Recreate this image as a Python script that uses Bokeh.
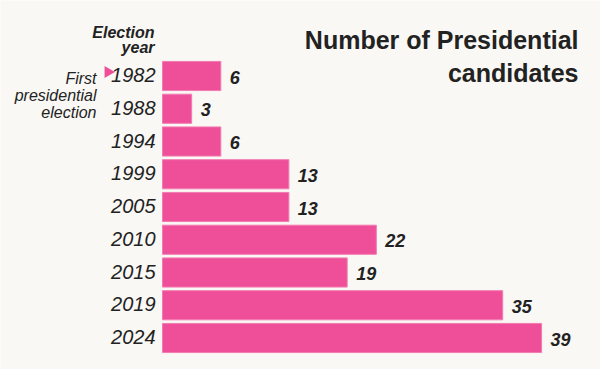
from bokeh.plotting import figure
from bokeh.models import Range1d, Label, ColumnDataSource
from bokeh.core.properties import value
from bokeh.embed import file_html
from bokeh.resources import INLINE
import math

years = ["1982", "1988", "1994", "1999", "2005", "2010", "2015", "2019", "2024"]
candidates = [6, 3, 6, 13, 13, 22, 19, 35, 39]

BG = "#F9F8F4"
PINK = "#EE4F98"
INK = "#222222"
SANS = "Liberation Sans"

# pixel geometry of the window
X0, PXU = 162.0, 9.72      # window px of value 0, px per candidate
Y0, PYU = 75.5, 32.75      # window px of first row centre, px per row
W, H = 600, 369

def dx(wx):
    return (wx - X0) / PXU

def dy(wy):
    return (wy - Y0) / PYU

p = figure(width=W, height=H, output_backend="svg", toolbar_location=None,
           x_range=Range1d(dx(0), dx(W)), y_range=Range1d(dy(H), dy(0)),
           min_border=0, background_fill_color=BG, border_fill_color=BG)
p.axis.visible = False
p.grid.visible = False
p.outline_line_color = None

idx = list(range(len(years)))
src = ColumnDataSource(dict(y=idx, v=candidates, year=years,
                            vlab=[str(c) for c in candidates]))

p.hbar(y="y", right="v", left=0, height=0.89, source=src,
       fill_color=PINK, line_color="#F27BB2", line_width=1)

p.text(x=0, y="y", text="year", source=src, x_offset=-7, y_offset=-1,
       text_align="right", text_baseline="middle",
       text_font=value(SANS), text_font_style="italic",
       text_font_size="20px", text_color=INK)

p.text(x="v", y="y", text="vlab", source=src, x_offset=9, y_offset=1,
       text_align="left", text_baseline="middle",
       text_font=value(SANS), text_font_style="bold italic",
       text_font_size="18px", text_color=INK)

# title
for txt, wy in [("Number of Presidential", 39), ("candidates", 72)]:
    p.add_layout(Label(x=dx(578), y=dy(wy), text=txt, text_align="right",
                       text_baseline="alphabetic", text_font=SANS,
                       text_font_style="bold", text_font_size="25px",
                       text_color=INK))

# header
for txt, wy in [("Election", 32), ("year", 47)]:
    p.add_layout(Label(x=dx(154), y=dy(wy), text=txt, text_align="right",
                       text_baseline="alphabetic", text_font=SANS,
                       text_font_style="bold italic", text_font_size="16px",
                       text_color=INK))

# annotation
for txt, wy in [("First", 78), ("presidential", 95), ("election", 112)]:
    p.add_layout(Label(x=dx(96), y=dy(wy), text=txt, text_align="right",
                       text_baseline="alphabetic", text_font=SANS,
                       text_font_style="italic", text_font_size="16px",
                       text_color=INK))

p.scatter(x=[dx(107.5)], y=[dy(71.5)], marker="triangle", size=12,
          angle=-math.pi / 2, fill_color=PINK, line_color=None)

open("out.html", "w").write(file_html(p, INLINE))
